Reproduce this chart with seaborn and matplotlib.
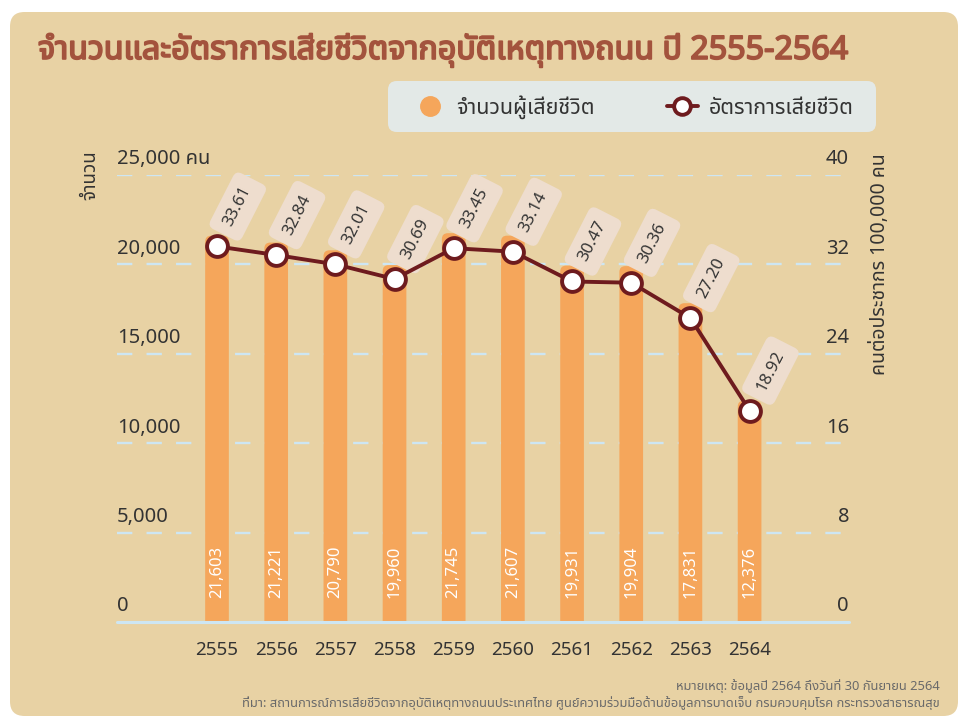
import numpy as np
import pandas as pd
import matplotlib
matplotlib.use("Agg")
import matplotlib.pyplot as plt
import matplotlib.patheffects as pe
from matplotlib import font_manager
from matplotlib.patches import FancyBboxPatch
from matplotlib.lines import Line2D
from matplotlib.legend_handler import HandlerLine2D
import seaborn as sns

years = ["2555", "2556", "2557", "2558", "2559", "2560", "2561", "2562", "2563", "2564"]
deaths = [21603, 21221, 20790, 19960, 21745, 21607, 19931, 19904, 17831, 12376]
rates = [33.61, 32.84, 32.01, 30.69, 33.45, 33.14, 30.47, 30.36, 27.20, 18.92]
left_ticks = [0, 5000, 10000, 15000, 20000, 25000]
right_ticks = [0, 8, 16, 24, 32, 40]

title = "จำนวนและอัตราการเสียชีวิตจากอุบัติเหตุทางถนน ปี 2555-2564"
bar_name = "จำนวนผู้เสียชีวิต"
line_name = "อัตราการเสียชีวิต"
left_label = "จำนวน"
right_label = "คนต่อประชากร 100,000 คน"
note = "หมายเหตุ: ข้อมูลปี 2564 ถึงวันที่ 30 กันยายน 2564"
source = ("ที่มา: สถานการณ์การเสียชีวิตจากอุบัติเหตุทางถนนประเทศไทย "
          "ศูนย์ความร่วมมือด้านข้อมูลการบาดเจ็บ กรมควบคุมโรค กระทรวงสาธารณสุข")

PANEL = "#E8D2A4"
BAR = "#F5A65B"
LINE = "#6E1B1E"
GRID = "#CDE6F3"
TXT = "#333333"
TITLE_C = "#A3533D"
LEG_BG = "#E3E9E7"


def find_thai_font():
    from fontTools.ttLib import TTFont
    found = []
    for f in font_manager.fontManager.ttflist:
        try:
            cmap = TTFont(f.fname, fontNumber=0, lazy=True).getBestCmap()
        except Exception:
            continue
        if cmap and 0x0E08 in cmap:
            found.append(f.name)
    for pref in ["Noto Sans Thai", "Noto Sans Thai UI", "Noto Sans Thai Looped"]:
        if pref in found:
            return pref
    return found[0] if found else None


class MarkerLeft(HandlerLine2D):
    # legend line with its marker at the left end, as in the original
    def get_xdata(self, legend, xdescent, ydescent, width, height, fontsize):
        xdata, _ = super().get_xdata(legend, xdescent, ydescent, width, height, fontsize)
        return xdata, np.array([-xdescent + 0.2 * width])


sns.set_theme(style="white")
thai = find_thai_font()
fams = ([thai] if thai else []) + ["DejaVu Sans"]
plt.rcParams["font.family"] = fams

df = pd.DataFrame({"year": years, "deaths": deaths, "rate": rates, "pos": np.arange(len(years))})

fig = plt.figure(figsize=(9.71, 7.28), dpi=100, facecolor="white")
fig.patches.append(FancyBboxPatch((10 / 971, 12 / 728), 948 / 971, 704 / 728,
                                  boxstyle="round,pad=0,rounding_size=0.015",
                                  transform=fig.transFigure, fc=PANEL, ec="none",
                                  zorder=-10, mutation_aspect=971 / 728))
# legend background box
fig.patches.append(FancyBboxPatch((388 / 971, 1 - 132 / 728), 488 / 971, 51 / 728,
                                  boxstyle="round,pad=0,rounding_size=0.009",
                                  transform=fig.transFigure, fc=LEG_BG, ec="none",
                                  zorder=-5, mutation_aspect=971 / 728))

ax = fig.add_axes([117 / 971, 1 - 622 / 728, 732 / 971, 447 / 728])
ax.set_facecolor("none")
sns.barplot(data=df, x="year", y="deaths", color=BAR, width=0.4, ax=ax,
            saturation=1, zorder=2)
ax.set_xlim(-1.69, 10.68)
ax.set_ylim(0, 25000)

# rounded tops on the bars
px_x = 732 / (10.68 + 1.69)
px_y = 447 / 25000
asp = px_x / px_y
for p in list(ax.patches):
    x, w, h = p.get_x(), p.get_width(), p.get_height()
    p.remove()
    ax.add_patch(FancyBboxPatch((x, -3000), w, h + 3000,
                                boxstyle="round,pad=0,rounding_size=0.1",
                                mutation_aspect=asp, fc=BAR, ec="none", zorder=2))

for v in left_ticks[1:]:
    ax.axhline(v, color=GRID, lw=1.7, dashes=(6.5, 6), zorder=1)
ax.axhline(0, color=GRID, lw=2.2, zorder=3, clip_on=False)

for s in ax.spines.values():
    s.set_visible(False)
ax.set_yticks([])
ax.set_xticks(range(len(years)))
ax.set_xticklabels(years, fontsize=13.5, color=TXT)
ax.tick_params(axis="x", length=0, pad=14)
ax.set_xlabel("")
ax.set_ylabel("")

for v in left_ticks:
    lab = f"{v:,}" + (" คน" if v == left_ticks[-1] else "")
    ax.annotate(lab, xy=(0, v), xycoords=("axes fraction", "data"),
                xytext=(0, 4), textcoords="offset points", ha="left", va="bottom",
                fontsize=14.5, color=TXT)

for i, v in enumerate(deaths):
    ax.text(i, 2800, f"{v:,}", rotation=90, ha="center", va="center",
            color="white", fontsize=12, zorder=4)

ax2 = ax.twinx()
ax2.set_ylim(0, 40)
ax2.set_yticks([])
for s in ax2.spines.values():
    s.set_visible(False)
sns.lineplot(data=df, x="pos", y="rate", ax=ax2, color=LINE, lw=2.8,
             marker="o", markersize=15, markerfacecolor="white",
             markeredgecolor=LINE, markeredgewidth=2.8, zorder=5)
ax2.set_xlim(-1.69, 10.68)
ax2.set_xlabel("")
ax2.set_ylabel("")

for v in right_ticks:
    ax2.annotate(f"{v}", xy=(1, v), xycoords=("axes fraction", "data"),
                 xytext=(0, 4), textcoords="offset points", ha="right", va="bottom",
                 fontsize=14.5, color=TXT)

for i, r in enumerate(rates):
    ax2.annotate(f"{r:.2f}", xy=(i, r), xytext=(8, 15), textcoords="offset points",
                 rotation=63, rotation_mode="anchor", ha="left", va="center",
                 fontsize=12, color=TXT, zorder=4,
                 bbox=dict(boxstyle="round,pad=0.6,rounding_size=0.4",
                           fc="#EEDDCE", ec="none"))

fig.text(38 / 971, 1 - 50 / 728, title, fontsize=23.2, color=TITLE_C,
         ha="left", va="center",
         path_effects=[pe.withStroke(linewidth=1.3, foreground=TITLE_C)])
fig.text(90 / 971, 1 - 150 / 728, left_label, rotation=90, ha="center", va="top",
         fontsize=13.5, color=TXT)
fig.text(880 / 971, 1 - 153 / 728, right_label, rotation=90, ha="center", va="top",
         fontsize=14, color=TXT)
fig.text(940 / 971, 1 - 686 / 728, note, ha="right", va="center", fontsize=9.3, color="#6A6A6A")
fig.text(940 / 971, 1 - 703 / 728, source, ha="right", va="center", fontsize=9.3, color="#6A6A6A")

h_bar = Line2D([], [], ls="none", marker="o", ms=14, mfc=BAR, mec=BAR)
h_line = Line2D([], [], color=LINE, lw=2.8, marker="o", ms=12, mfc="white",
                mec=LINE, mew=2.8)
fig.legend([h_bar, h_line], [bar_name, line_name], loc="center",
           bbox_to_anchor=(634 / 971, 1 - 107 / 728), ncol=2, frameon=False,
           fontsize=15.5, columnspacing=3.4, handletextpad=0.5, borderpad=0.5,
           borderaxespad=0, handlelength=1.4, labelcolor=TXT,
           handler_map={h_line: MarkerLeft()})

fig.savefig("out.png", dpi=100, facecolor="white")
